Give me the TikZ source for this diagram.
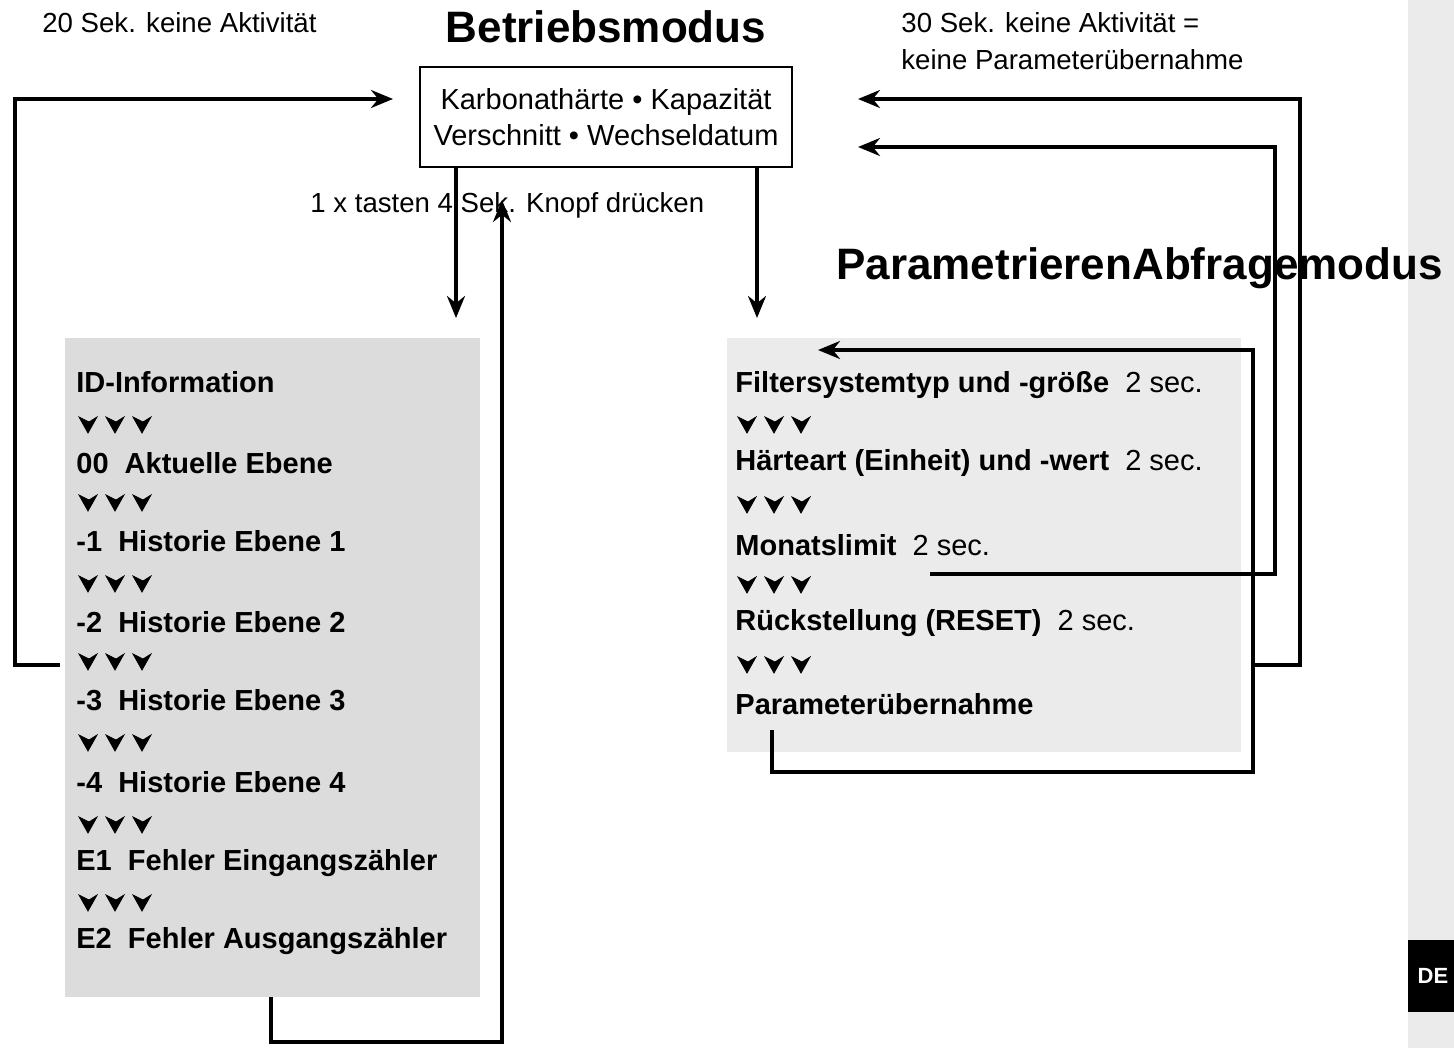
\documentclass[tikz,border=0pt]{standalone}
\usepackage{fontspec}
\setmainfont{Liberation Sans}
\usetikzlibrary{arrows.meta,positioning,calc}
\definecolor{boxgray}{HTML}{DCDCDC}
\definecolor{lightgray}{HTML}{EBEBEB}
\tikzset{
  px/.style={x=0.5pt,y=-0.5pt},
  line/.style={line width=1.6pt},
  arr/.style={line, -{Stealth[length=11pt,width=9pt]}},
  item/.style={anchor=west, inner sep=0pt, font=\fontsize{14.5}{17}\selectfont\bfseries},
  note/.style={anchor=west, inner sep=0pt, font=\fontsize{13.8}{16}\selectfont},
  title/.style={inner sep=0pt, font=\fontsize{22}{26}\selectfont\bfseries},
}
\newcommand{\dart}[1]{%
  \foreach \dx in {0,27,54}{
    \filldraw[line width=0.4pt] ($(#1)+(\dx,0)$) ++(-9,-8) -- ++(9,16) -- ++(9,-16) -- ++(-8,5) -- cycle;}}
\begin{document}
\begin{tikzpicture}[px]
    \useasboundingbox (0,0) rectangle (1454,1048);
    % side strip
    \fill[lightgray] (1408,0) rectangle (1454,1048);
    \fill[black] (1408,940) rectangle (1454,1012);
    \node[text=white, font=\fontsize{11}{13}\selectfont\bfseries] (de) at (1433,976) {DE};
    % boxes
    \fill[boxgray] (65,338) rectangle (480,997);
    \fill[lightgray] (727,338) rectangle (1241,752);
    \node[draw, line width=0.9pt, minimum width=186pt, minimum height=50pt, align=center,
      font=\fontsize{14.5}{18}\selectfont] (betrieb) at (606,117)
      {Karbonathärte • Kapazität\\Verschnitt • Wechseldatum};
    % titles and notes
    \node[title] (btitle) at (606,27) {Betriebsmodus};
    \node[title, anchor=west] (ptitle) at (836,268) {ParametrierenAbfragemodus};
    \node[note] (n20) at (42,23) {20 Sek. keine Aktivität};
    \node[note] (n30) at (901,23) {30 Sek. keine Aktivität =};
    \node[note] (n30b) at (901,60) {keine Parameterübernahme};
    \node[note] (taste) at (310,205) {1 x tasten 4 Sek. Knopf drücken};

    % left list
    \node[item] (id) at (76,382) {ID-Information};
    \node[item] (l0) at (76,463) {00\ \ Aktuelle Ebene};
    \node[item] (l1) at (76,541) {-1\ \ Historie Ebene 1};
    \node[item] (l2) at (76,622) {-2\ \ Historie Ebene 2};
    \node[item] (l3) at (76,700) {-3\ \ Historie Ebene 3};
    \node[item] (l4) at (76,782) {-4\ \ Historie Ebene 4};
    \node[item] (e1) at (76,863) {E1\ \ Fehler Eingangszähler};
    \node[item] (e2) at (76,941) {E2\ \ Fehler Ausgangszähler};
    \foreach \y in {425,503,584,662,743,825,903}{
      \coordinate (d) at (88,\y); \dart{d}}

    % right list
    \node[item] (r1) at (735,385) {Filtersystemtyp und -größe\ \ \textmd{2 sec.}};
    \node[item] (r2) at (735,463) {Härteart (Einheit) und -wert\ \ \textmd{2 sec.}};
    \node[item] (r3) at (735,545) {Monatslimit\ \ \textmd{2 sec.}};
    \node[item] (r4) at (735,623) {Rückstellung (RESET)\ \ \textmd{2 sec.}};
    \node[item] (r5) at (735,704) {Parameterübernahme};
    \foreach \y in {425,505,585,665}{
      \coordinate (d) at (747,\y); \dart{d}}

    % connectors
    \coordinate (lout) at (60,665);
    \coordinate (lin) at (393,99);
    \draw[arr] (lout) -- (15,665) |- (lin);
    \coordinate (dl) at (456,318);
    \draw[arr] (betrieb.south -| dl) -- (dl);
    \coordinate (bot) at (271,997);
    \coordinate (up) at (502,200);
    \draw[arr] (bot) -- (271,1042) -| (up);
    \coordinate (dr) at (757,318);
    \draw[arr] (betrieb.south -| dr) -- (dr);
    \coordinate (rout) at (1255,665);
    \coordinate (rin) at (858,99);
    \draw[arr] (rout) -- (1300,665) |- (rin);
    \coordinate (mout) at (930,574);
    \coordinate (min) at (858,147);
    \draw[arr] (mout) -- (1275,574) |- (min);
    \coordinate (pout) at (772,730);
    \coordinate (pin) at (818,350);
    \draw[arr] (pout) -- (772,772) -- (1253,772) |- (pin);
\end{tikzpicture}
\end{document}
